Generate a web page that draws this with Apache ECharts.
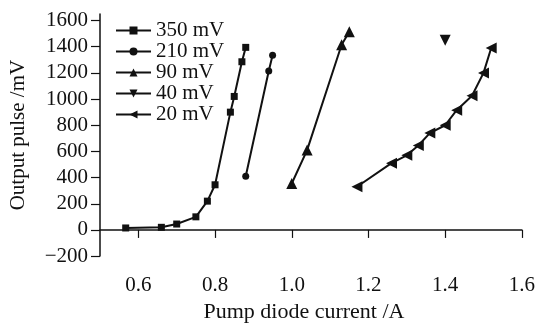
<!DOCTYPE html>
<html>
<head>
<meta charset="utf-8">
<script src="https://cdn.jsdelivr.net/npm/echarts@6/dist/echarts.min.js"></script>
<style>
  html, body { margin: 0; padding: 0; background: #fff; }
  #chart { width: 538px; height: 328px; }
</style>
</head>
<body>
<div id="chart"></div>
<script>
// --- data: [current A, output mV] ---
const s350 = [[0.567, 15], [0.66, 20], [0.70, 45], [0.75, 100], [0.78, 220], [0.80, 345],
  [0.84, 900], [0.85, 1020], [0.87, 1285], [0.88, 1395]];
const s210 = [[0.88, 410], [0.94, 1215], [0.95, 1335]];
const s90 = [[1.00, 355], [1.04, 610], [1.13, 1415], [1.15, 1515]];
const s40 = [[1.40, 1450]];
const s20 = [[1.17, 330], [1.26, 510], [1.30, 570], [1.33, 645], [1.36, 740], [1.40, 800],
  [1.43, 915], [1.47, 1025], [1.50, 1200], [1.52, 1390]];

const xTicks = [0.6, 0.8, 1.0, 1.2, 1.4, 1.6];
const yTicks = [-200, 0, 200, 400, 600, 800, 1000, 1200, 1400, 1600];

const FONT = 'Liberation Serif';
const FS = 21;
const INK = '#111';

const chart = echarts.init(document.getElementById('chart'), null, { renderer: 'canvas' });

const mkSeries = (name, data, symbol, size, rotate) => ({
  name: name,
  type: 'line',
  data: data,
  symbol: symbol,
  symbolSize: size,
  symbolRotate: rotate || 0,
  lineStyle: { color: INK, width: 2 },
  itemStyle: { color: INK },
  animation: false
});

chart.setOption({
  backgroundColor: '#fff',
  animation: false,
  grid: { left: 98, right: 14, top: 14, bottom: 69 },
  legend: {
    orient: 'vertical',
    left: 115,
    top: 20,
    padding: 0,
    itemWidth: 35,
    itemHeight: 10,
    itemGap: 0,
    textStyle: { fontFamily: FONT, fontSize: FS, color: INK, lineHeight: 21 },
    data: ['350 mV', '210 mV', '90 mV', '40 mV', '20 mV']
  },
  xAxis: {
    type: 'value',
    min: 0.5,
    max: 1.6,
    name: 'Pump diode current /A',
    nameLocation: 'middle',
    nameGap: 43,
    nameTextStyle: { fontFamily: FONT, fontSize: 22, color: INK, padding: [0, 14, 0, 0] },
    axisLine: { lineStyle: { color: INK, width: 1.5 } },
    axisTick: { show: true, length: 8, lineStyle: { color: INK, width: 1.2 }, customValues: xTicks },
    axisLabel: {
      customValues: xTicks,
      margin: 19,
      fontFamily: FONT, fontSize: FS, color: INK,
      formatter: v => v.toFixed(1)
    },
    splitLine: { show: false }
  },
  yAxis: {
    type: 'value',
    min: -200,
    max: 1650,
    name: 'Output pulse /mV',
    nameLocation: 'middle',
    nameGap: 71,
    nameTextStyle: { fontFamily: FONT, fontSize: FS, color: INK },
    axisLine: { show: true, lineStyle: { color: INK, width: 1.5 } },
    axisTick: { show: true, length: 9, lineStyle: { color: INK, width: 1.2 }, customValues: yTicks },
    axisLabel: {
      customValues: yTicks,
      margin: 12,
      fontFamily: FONT, fontSize: FS, color: INK,
      formatter: v => (v < 0 ? '\u2212' + Math.abs(v) : String(v))
    },
    splitLine: { show: false }
  },
  series: [
    mkSeries('350 mV', s350, 'rect', 7),
    mkSeries('210 mV', s210, 'circle', 7),
    mkSeries('90 mV', s90, 'triangle', 11),
    mkSeries('40 mV', s40, 'triangle', 11, 180),
    mkSeries('20 mV', s20, 'triangle', 11, 90)
  ]
});
</script>
</body>
</html>
